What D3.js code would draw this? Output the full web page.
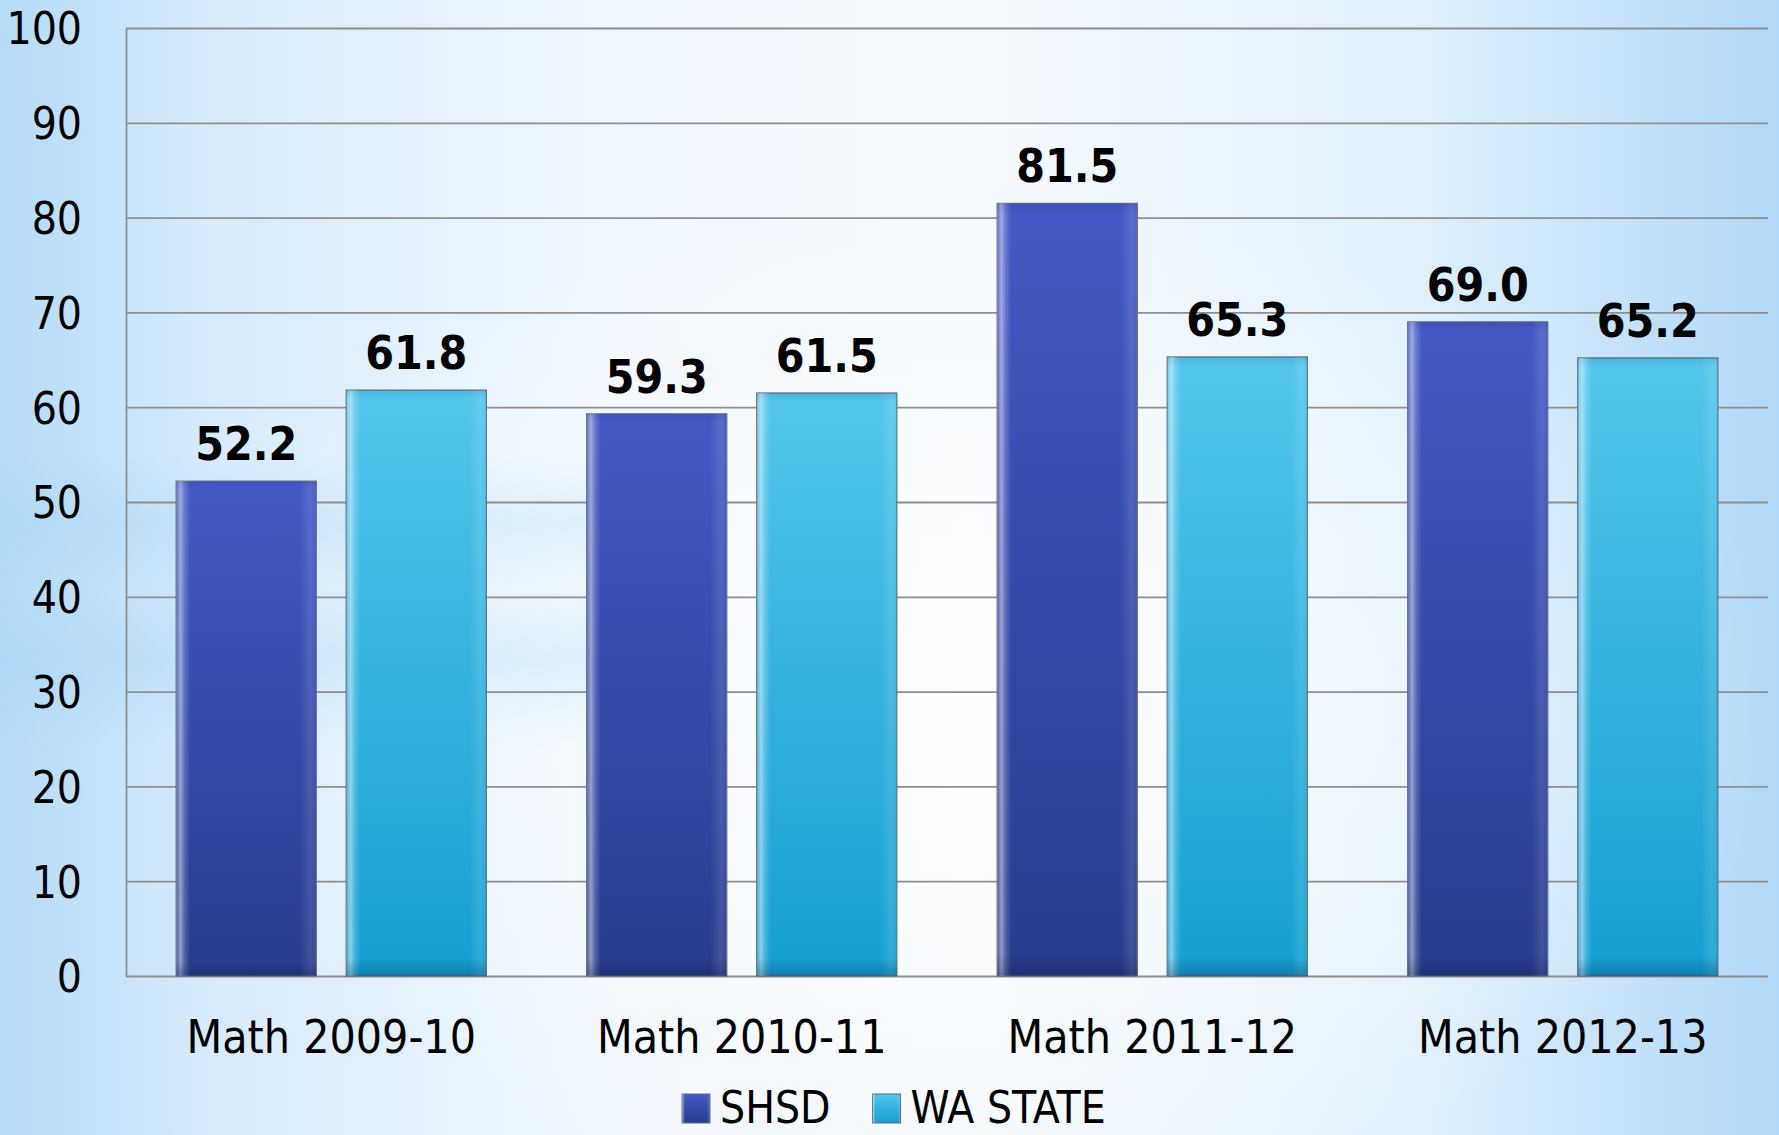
<!DOCTYPE html>
<html>
<head>
<meta charset="utf-8">
<script src="https://cdn.jsdelivr.net/npm/d3@7"></script>
<style>
  html, body { margin: 0; padding: 0; overflow: hidden; }
  body { width: 1779px; height: 1135px; }
  .lbl { font-family: "DejaVu Sans Condensed", "Liberation Sans Narrow", "Lato", sans-serif; }
</style>
</head>
<body>
<div id="chart"></div>
<script>
// Chart data
var categories = ["Math 2009-10", "Math 2010-11", "Math 2011-12", "Math 2012-13"];
var seriesNames = ["SHSD", "WA STATE"];
var shsdValues = [52.2, 59.3, 81.5, 69.0];
var waValues = [61.8, 61.5, 65.3, 65.2];
var yDomain = [0, 100];
var yTickValues = [0, 10, 20, 30, 40, 50, 60, 70, 80, 90, 100];

var W = 1779, H = 1135;
var plot = { left: 126, right: 1768, top: 28, bottom: 976 };

var svg = d3.select("#chart")
            .append("svg")
                .attr("width", W)
                .attr("height", H)

var defs = svg.append("defs");

// Background gradients
var bg = defs.append("linearGradient").attr("id", "bg").attr("x1", 0).attr("x2", 1).attr("y1", 0).attr("y2", 0);
[["0%", "#b5dbf8"], ["12%", "#d8ebfb"], ["35%", "#f1f8fe"], ["55%", "#f6fafe"], ["80%", "#e0f0fc"], ["100%", "#b0d8f8"]]
    .forEach(function(s) { bg.append("stop").attr("offset", s[0]).attr("stop-color", s[1]); });

var glow = defs.append("radialGradient").attr("id", "glow").attr("cx", 0.55).attr("cy", 0.62).attr("r", 0.45);
glow.append("stop").attr("offset", "0%").attr("stop-color", "#ffffff").attr("stop-opacity", 0.85);
glow.append("stop").attr("offset", "100%").attr("stop-color", "#ffffff").attr("stop-opacity", 0);

var band = defs.append("linearGradient").attr("id", "band").attr("x1", 0).attr("x2", 0).attr("y1", 0).attr("y2", 1);
[["0%", 0], ["40%", 0], ["46%", 0.2], ["52%", 0.06], ["58%", 0.22], ["66%", 0]]
    .forEach(function(s) { band.append("stop").attr("offset", s[0]).attr("stop-color", "#8cc8f0").attr("stop-opacity", s[1]); });

svg.append("rect").attr("width", W).attr("height", H).style("fill", "url(#bg)")
svg.append("rect").attr("width", W).attr("height", H).style("fill", "url(#glow)")
svg.append("rect").attr("width", 700).attr("height", H).style("fill", "url(#band)")

// Bar gradients, one per series
var barColors = [
    { id: "shsd", top: "#4459c6", bottom: "#293b8c" },
    { id: "wa", top: "#53c6ec", bottom: "#149fd0" }
];
barColors.forEach(function(c) {
    var g = defs.append("linearGradient").attr("id", c.id).attr("x1", 0).attr("x2", 0).attr("y1", 0).attr("y2", 1);
    g.append("stop").attr("offset", "0%").attr("stop-color", c.top);
    g.append("stop").attr("offset", "100%").attr("stop-color", c.bottom);
});

// Horizontal sheen on the bars (light left edge, soft right edge)
var sheen = defs.append("linearGradient").attr("id", "sheen").attr("x1", 0).attr("x2", 1).attr("y1", 0).attr("y2", 0);
[["0%", 0.15], ["3%", 0.5], ["6%", 0.2], ["10%", 0], ["88%", 0], ["96%", 0.12], ["100%", 0.05]]
    .forEach(function(s) { sheen.append("stop").attr("offset", s[0]).attr("stop-color", "#ffffff").attr("stop-opacity", s[1]); });

var shade = defs.append("linearGradient").attr("id", "shade").attr("x1", 0).attr("x2", 0).attr("y1", 0).attr("y2", 1);
[["0%", 0.1], ["1.5%", 0], ["97%", 0], ["100%", 0.25]]
    .forEach(function(s) { shade.append("stop").attr("offset", s[0]).attr("stop-color", "#001030").attr("stop-opacity", s[1]); });

// Scales
var y = d3.scaleLinear()
          .domain(yDomain)
          .range([plot.bottom, plot.top])

var x0 = d3.scaleBand()
           .domain(categories)
           .range([plot.left, plot.right])
           .paddingInner(0)
           .paddingOuter(0)

var x1 = d3.scaleBand()
           .domain(seriesNames)
           .range([0, x0.bandwidth()])
           .paddingInner(0.176)
           .paddingOuter(0.295)

// Y axis with gridlines
var yAxis = d3.axisLeft(y)
              .tickValues(yTickValues)
              .tickSize(-(plot.right - plot.left))
              .tickSizeOuter(0)
              .tickPadding(44)

var gy = svg.append("g")
    .attr("transform", `translate(${plot.left}, 0)`)
    .call(yAxis)

gy.selectAll(".tick line").attr("stroke", "#8e8e8e").attr("stroke-width", 1.8)
gy.select(".domain").attr("stroke", "#8e8e8e").attr("stroke-width", 1.8)
gy.selectAll(".tick text")
  .attr("class", "lbl")
  .attr("dy", "0.36em")
  .style("font-size", "44px")
  .style("fill", "#000")

// Bars
var rows = categories.map(function(c, i) {
    return [
        { cat: c, series: seriesNames[0], value: shsdValues[i], grad: "shsd" },
        { cat: c, series: seriesNames[1], value: waValues[i], grad: "wa" }
    ];
});
var flat = [].concat.apply([], rows);

var bars = svg.append("g").selectAll("g")
    .data(flat)
    .enter()
    .append("g")
        .attr("transform", function(d) {
            return `translate(${x0(d.cat) + x1(d.series)}, ${y(d.value)})`
        })

bars.append("rect")
    .attr("width", x1.bandwidth())
    .attr("height", function(d) { return y(0) - y(d.value) })
    .style("fill", function(d) { return `url(#${d.grad})` })
    .attr("stroke", "#5d6a86")
    .attr("stroke-width", 1.2)

bars.append("rect")
    .attr("width", x1.bandwidth())
    .attr("height", function(d) { return y(0) - y(d.value) })
    .style("fill", "url(#sheen)")

bars.append("rect")
    .attr("width", x1.bandwidth())
    .attr("height", function(d) { return y(0) - y(d.value) })
    .style("fill", "url(#shade)")

// Value labels
bars.append("text")
    .attr("class", "lbl")
    .attr("x", x1.bandwidth() / 2)
    .attr("y", -21)
    .attr("text-anchor", "middle")
    .style("font-size", "46px")
    .style("font-weight", "bold")
    .style("fill", "#000")
    .text(function(d) { return d3.format(".1f")(d.value) })

// Category labels
svg.append("g").selectAll("text")
    .data(categories)
    .enter()
    .append("text")
        .attr("class", "lbl")
        .attr("x", function(c) { return x0(c) + x0.bandwidth() / 2 })
        .attr("y", 1053)
        .attr("text-anchor", "middle")
        .style("font-size", "46px")
        .style("fill", "#000")
        .text(function(c) { return c })

// Legend (kept just inside the bottom edge)
var legend = svg.append("g");
var lx = 682;
var legendBase = 1123;
seriesNames.forEach(function(name, i) {
    legend.append("rect")
        .attr("x", lx)
        .attr("y", legendBase - 29)
        .attr("width", 28)
        .attr("height", 29)
        .style("fill", `url(#${barColors[i].id})`)
        .attr("stroke", "#5d6a86")
        .attr("stroke-width", 1)
    legend.append("rect")
        .attr("x", lx)
        .attr("y", legendBase - 29)
        .attr("width", 28)
        .attr("height", 29)
        .style("fill", "url(#sheen)")
    var t = legend.append("text")
        .attr("class", "lbl")
        .attr("x", lx + 38)
        .attr("y", legendBase)
        .style("font-size", "44px")
        .style("fill", "#000")
        .text(name)
    lx = lx + 38 + t.node().getComputedTextLength() + 42;
});
</script>
</body>
</html>
